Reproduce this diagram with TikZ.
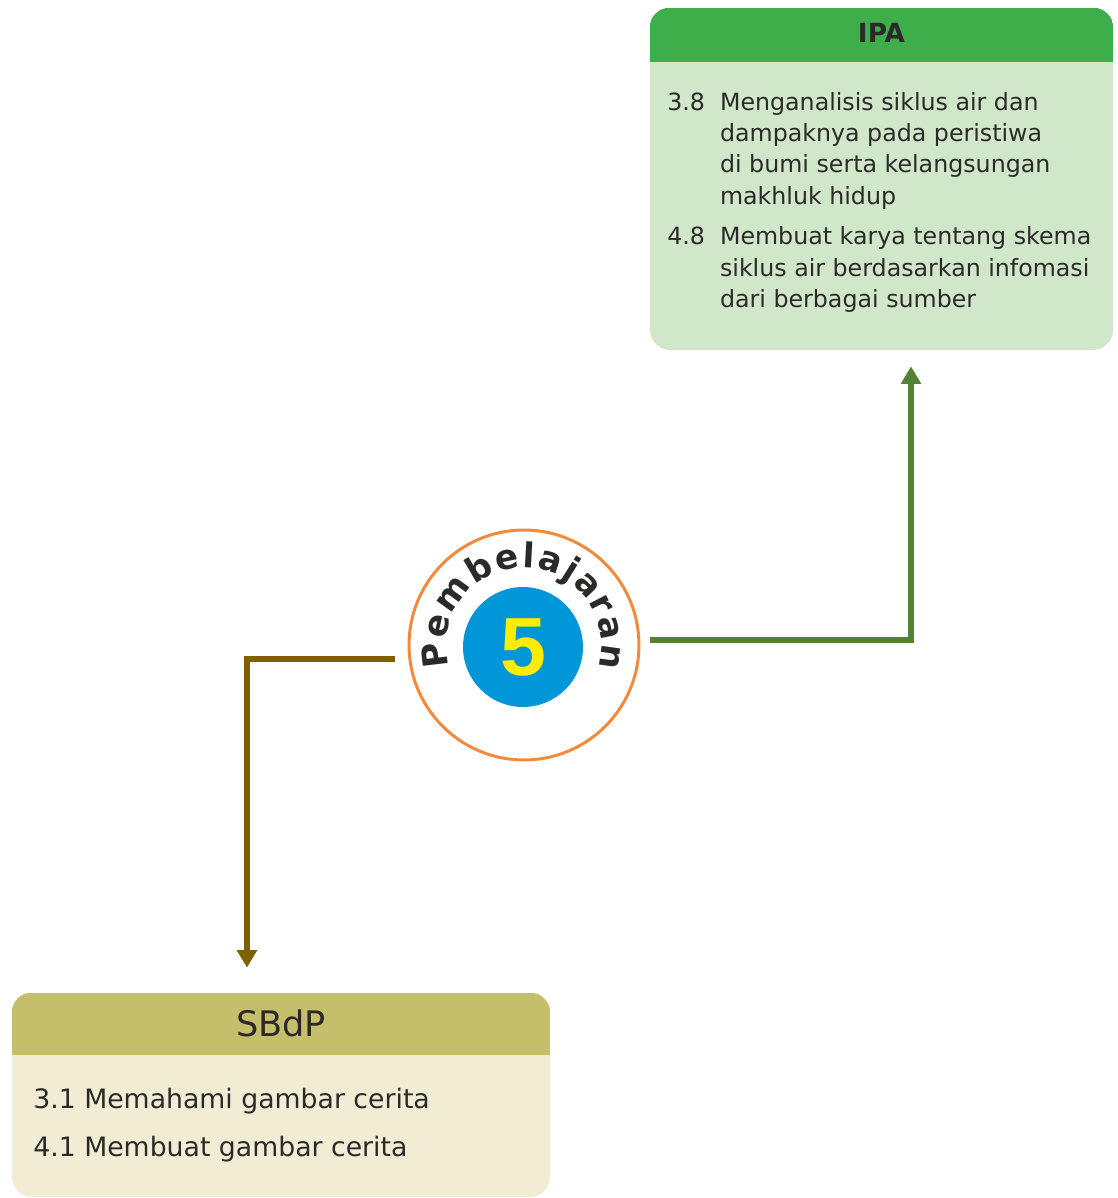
\documentclass[tikz,border=0pt]{standalone}
\usepackage{fontspec}
\setmainfont{DejaVu Sans}
\newfontfamily\numfont{Liberation Sans}
\usetikzlibrary{arrows.meta,decorations.text}

\definecolor{ipahead}{HTML}{3DAE4A}
\definecolor{ipabody}{HTML}{D1E7C9}
\definecolor{sbdphead}{HTML}{C5BF6B}
\definecolor{sbdpbody}{HTML}{F0EDD4}
\definecolor{ringorange}{HTML}{F28A3B}
\definecolor{numblue}{HTML}{0096D8}
\definecolor{numyellow}{HTML}{FFEC00}
\definecolor{linkgreen}{HTML}{538135}
\definecolor{linkbrown}{HTML}{7F6000}
\definecolor{ink}{HTML}{2B2A29}

\newcommand{\pembstyle}{\bfseries\fontsize{19.5}{19.5}\selectfont}

\tikzset{
  kdbox/.style={inner sep=0pt, rounded corners=0.4cm},
  kdlink/.style={line width=3.2pt, -{Triangle[length=10pt,width=11pt]}},
}

\begin{document}
\begin{tikzpicture}[x=0.02cm, y=-0.02cm]

    \useasboundingbox (0,0) rectangle (1117,1198);

    % -- Kotak IPA --
    \node[kdbox, fill=ipabody, minimum width=9.26cm, minimum height=6.84cm] (ipa) at (881.5,179) {};
    \begin{scope}
        \clip[rounded corners=0.4cm] (ipa.south west) rectangle (ipa.north east);
        \fill[ipahead] (ipa.north west) rectangle ([shift={(0,54)}]ipa.north east);
    \end{scope}
    \node[text=ink, font=\bfseries\fontsize{15}{15}\selectfont] (ipatitle) at (881.5,33) {IPA};
    \node[anchor=base west, inner sep=0pt, text=ink, font=\fontsize{13.5}{17.9}\selectfont] (ipatext) at (667,110) {%
        \begin{tabular}[t]{@{}p{30pt}@{}l@{}}
            3.8 & Menganalisis siklus air dan\\
                & dampaknya pada peristiwa\\
                & di bumi serta kelangsungan\\
                & makhluk hidup\\[5pt]
            4.8 & Membuat karya tentang skema\\
                & siklus air berdasarkan infomasi\\
                & dari berbagai sumber
        \end{tabular}};

    % -- Kotak SBdP --
    \node[kdbox, fill=sbdpbody, minimum width=10.76cm, minimum height=4.08cm] (sbdp) at (281,1095) {};
    \begin{scope}
        \clip[rounded corners=0.4cm] (sbdp.south west) rectangle (sbdp.north east);
        \fill[sbdphead] (sbdp.north west) rectangle ([shift={(0,62)}]sbdp.north east);
    \end{scope}
    \node[text=ink, font=\fontsize{20}{20}\selectfont] (sbdptitle) at (281,1023) {SBdP};
    \node[anchor=base west, inner sep=0pt, text=ink, font=\fontsize{15.2}{27.8}\selectfont] (sbdptext) at (33,1108) {%
        \begin{tabular}[t]{@{}l@{}}
            3.1 Memahami gambar cerita\\
            4.1 Membuat gambar cerita
        \end{tabular}};

    % -- Lingkaran Pembelajaran 5 --
    \node[circle, draw=ringorange, line width=1.7pt, fill=white, minimum size=4.6cm, inner sep=0pt] (pemb) at (524,645) {};
    \node[circle, fill=numblue, minimum size=2.4cm, inner sep=0pt, text=numyellow,
          font=\numfont\bfseries\fontsize{47}{47}\selectfont] (num) at (523,647) {5};
    \path[decorate, decoration={text along path, text align={fit to path}, text color=ink,
          text={|\pembstyle|Pembelajaran}}]
        ([shift={(196:1.55cm)}]pemb.center) arc[start angle=196, end angle=-17, radius=1.55cm];

    % -- Panah --
    \draw[kdlink, linkbrown] ([shift={(-13,14)}]pemb.west) -| ([shift={(-34,-25)}]sbdp.north);
    \draw[kdlink, linkgreen] ([shift={(10,-5)}]pemb.east) -| ([shift={(29.5,16)}]ipa.south);

\end{tikzpicture}
\end{document}
